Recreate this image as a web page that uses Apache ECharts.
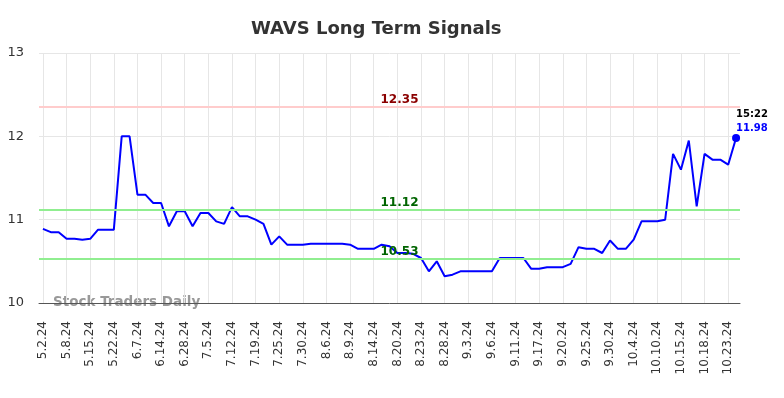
<!DOCTYPE html>
<html>
<head>
<meta charset="utf-8">
<script src="https://cdn.jsdelivr.net/npm/echarts@6/dist/echarts.min.js"></script>
<style>
  html, body { margin: 0; padding: 0; background: #fff; }
  #chart { width: 784px; height: 398px; }
</style>
</head>
<body>
<div id="chart"></div>
<script>
const dates = [
  '5.2.24', '5.3.24', '5.6.24', '5.8.24', '5.10.24', '5.13.24', '5.15.24', '5.17.24', '5.20.24', '5.22.24',
  '5.24.24', '5.31.24', '6.7.24', '6.10.24', '6.12.24', '6.14.24', '6.18.24', '6.24.24', '6.28.24', '7.1.24',
  '7.3.24', '7.5.24', '7.9.24', '7.10.24', '7.12.24', '7.16.24', '7.17.24', '7.19.24', '7.22.24', '7.23.24',
  '7.25.24', '7.26.24', '7.29.24', '7.30.24', '8.1.24', '8.5.24', '8.6.24', '8.7.24', '8.8.24', '8.9.24',
  '8.12.24', '8.13.24', '8.14.24', '8.15.24', '8.19.24', '8.20.24', '8.21.24', '8.22.24', '8.23.24', '8.26.24',
  '8.27.24', '8.28.24', '8.29.24', '8.30.24', '9.3.24', '9.4.24', '9.5.24', '9.6.24', '9.9.24', '9.10.24',
  '9.11.24', '9.12.24', '9.16.24', '9.17.24', '9.18.24', '9.19.24', '9.20.24', '9.23.24', '9.24.24', '9.25.24',
  '9.26.24', '9.27.24', '9.30.24', '10.1.24', '10.3.24', '10.4.24', '10.7.24', '10.9.24', '10.10.24', '10.11.24',
  '10.14.24', '10.15.24', '10.16.24', '10.17.24', '10.18.24', '10.21.24', '10.22.24', '10.23.24', '10.24.24'
];

const prices = [
  10.89, 10.85, 10.85, 10.77, 10.77, 10.76, 10.77, 10.88, 10.88, 10.88,
  12.00, 12.00, 11.30, 11.30, 11.20, 11.20, 10.92, 11.10, 11.10, 10.92,
  11.08, 11.08, 10.98, 10.95, 11.15, 11.04, 11.04, 11.00, 10.95, 10.70,
  10.80, 10.70, 10.70, 10.70, 10.71, 10.71, 10.71, 10.71, 10.71, 10.70,
  10.65, 10.65, 10.65, 10.70, 10.68, 10.60, 10.60, 10.59, 10.54, 10.38,
  10.50, 10.32, 10.34, 10.38, 10.38, 10.38, 10.38, 10.38, 10.54, 10.54,
  10.54, 10.54, 10.41, 10.41, 10.43, 10.43, 10.43, 10.47, 10.67, 10.65,
  10.65, 10.60, 10.75, 10.65, 10.65, 10.76, 10.98, 10.98, 10.98, 11.00,
  11.79, 11.60, 11.95, 11.16, 11.79, 11.72, 11.72, 11.66, 11.98
];

const resistance = 12.35;
const supports = [11.12, 10.53];
const lastTime = '15:22';

const lastIdx = prices.length - 1;
const chart = echarts.init(document.getElementById('chart'));

// label style for the signal lines
function lineLabel(value, color) {
  return {
    position: 'middle',
    formatter: String(value),
    color: color,
    fontWeight: 'bold',
    fontSize: 12,
    fontFamily: 'DejaVu Sans',
    offset: [10, 0],
    distance: 1
  };
}

chart.setOption({
  animation: false,
  title: {
    text: 'WAVS Long Term Signals',
    left: 246,
    top: 15,
    textStyle: { fontSize: 18, fontWeight: 'bold', color: '#333', fontFamily: 'DejaVu Sans' }
  },
  grid: { left: 39, right: 44, top: 53, bottom: 95, outerBoundsMode: 'none' },
  xAxis: {
    type: 'category',
    data: dates,
    boundaryGap: true,
    axisTick: { show: false, alignWithLabel: true },
    axisLine: { lineStyle: { color: '#555', width: 1 } },
    axisLabel: {
      interval: 2,
      rotate: 90,
      fontSize: 12,
      color: '#333',
      fontFamily: 'DejaVu Sans',
      margin: 18
    },
    splitLine: { show: true, interval: 2, alignWithLabel: true, lineStyle: { color: '#e6e6e6' } }
  },
  yAxis: {
    type: 'value',
    min: 10,
    max: 13,
    interval: 1,
    axisLine: { show: false },
    axisTick: { show: false },
    axisLabel: { fontSize: 13, color: '#333', fontFamily: 'DejaVu Sans', margin: 15, padding: [3, 0, 0, 0] },
    splitLine: { lineStyle: { color: '#e6e6e6' } }
  },
  graphic: [{
    type: 'text',
    left: 53,
    top: 295,
    style: {
      text: 'Stock Traders Daily',
      fill: '#999',
      font: 'bold 13.5px DejaVu Sans'
    }
  }],
  series: [{
    type: 'line',
    data: prices,
    symbol: 'none',
    lineStyle: { color: '#0000ff', width: 2 },
    itemStyle: { color: '#0000ff' },
    markLine: {
      symbol: 'none',
      silent: true,
      data: [
        { yAxis: resistance, lineStyle: { color: '#ffcccc', width: 2, type: 'solid' }, label: lineLabel(resistance, '#8b0000') },
        { yAxis: supports[0], lineStyle: { color: '#90ee90', width: 2, type: 'solid' }, label: lineLabel(supports[0], '#006400') },
        { yAxis: supports[1], lineStyle: { color: '#90ee90', width: 2, type: 'solid' }, label: lineLabel(supports[1], '#006400') }
      ]
    },
    markPoint: {
      symbol: 'circle',
      symbolSize: 8,
      itemStyle: { color: '#0000ff' },
      data: [{
        coord: [lastIdx, prices[lastIdx]],
        label: {
          show: true,
          position: [4, -27],
          align: 'left',
          verticalAlign: 'top',
          formatter: '{t|' + lastTime + '}\n{v|' + prices[lastIdx].toFixed(2) + '}',
          rich: {
            t: { color: '#000', fontWeight: 'bold', fontSize: 10, fontFamily: 'DejaVu Sans', lineHeight: 14 },
            v: { color: '#0000ff', fontWeight: 'bold', fontSize: 10, fontFamily: 'DejaVu Sans', lineHeight: 14 }
          }
        }
      }]
    }
  }]
});
</script>
</body>
</html>
